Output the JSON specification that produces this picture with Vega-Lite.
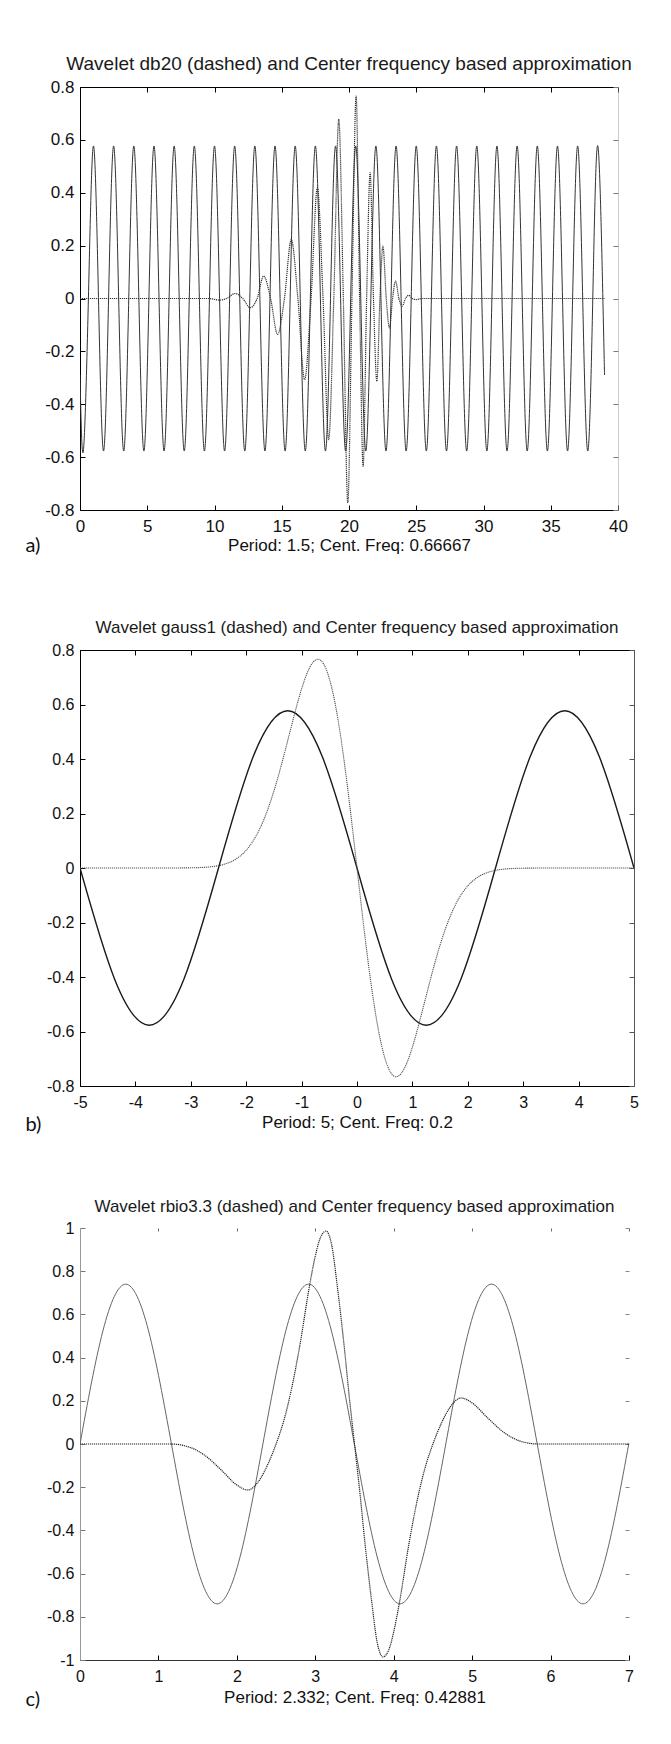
{
  "$schema": "https://vega.github.io/schema/vega-lite/v6.json",
  "background": "white",
  "padding": {"left": 25, "top": 55, "right": 0, "bottom": 0},
  "spacing": 64,
  "datasets": {
    "a_sine": [
      {"x":0,"y":-0.289},{"x":0.25,"y":-0.577},{"x":0.625,"y":0},{"x":1,"y":0.577},{"x":1.375,"y":0},{"x":1.75,"y":-0.577},{"x":2.125,"y":0},{"x":2.5,"y":0.577},{"x":2.875,"y":0},{"x":3.25,"y":-0.577},{"x":3.625,"y":0},{"x":4,"y":0.577},{"x":4.375,"y":0},{"x":4.75,"y":-0.577},{"x":5.125,"y":0},{"x":5.5,"y":0.577},{"x":5.875,"y":0},{"x":6.25,"y":-0.577},{"x":6.625,"y":0},{"x":7,"y":0.577},{"x":7.375,"y":0},{"x":7.75,"y":-0.577},{"x":8.125,"y":0},{"x":8.5,"y":0.577},{"x":8.875,"y":0},{"x":9.25,"y":-0.577},{"x":9.625,"y":0},{"x":10,"y":0.577},{"x":10.375,"y":0},{"x":10.75,"y":-0.577},{"x":11.125,"y":0},{"x":11.5,"y":0.577},{"x":11.875,"y":0},{"x":12.25,"y":-0.577},{"x":12.625,"y":0},{"x":13,"y":0.577},{"x":13.375,"y":0},{"x":13.75,"y":-0.577},{"x":14.125,"y":0},{"x":14.5,"y":0.577},{"x":14.875,"y":0},{"x":15.25,"y":-0.577},{"x":15.625,"y":0},{"x":16,"y":0.577},{"x":16.375,"y":0},{"x":16.75,"y":-0.577},{"x":17.125,"y":0},{"x":17.5,"y":0.577},{"x":17.875,"y":0},{"x":18.25,"y":-0.577},{"x":18.625,"y":0},{"x":19,"y":0.577},{"x":19.375,"y":0},{"x":19.75,"y":-0.577},{"x":20.125,"y":0},{"x":20.5,"y":0.577},{"x":20.875,"y":0},{"x":21.25,"y":-0.577},{"x":21.625,"y":0},{"x":22,"y":0.577},{"x":22.375,"y":0},{"x":22.75,"y":-0.577},{"x":23.125,"y":0},{"x":23.5,"y":0.577},{"x":23.875,"y":0},{"x":24.25,"y":-0.577},{"x":24.625,"y":0},{"x":25,"y":0.577},{"x":25.375,"y":0},{"x":25.75,"y":-0.577},{"x":26.125,"y":0},{"x":26.5,"y":0.577},{"x":26.875,"y":0},{"x":27.25,"y":-0.577},{"x":27.625,"y":0},{"x":28,"y":0.577},{"x":28.375,"y":0},{"x":28.75,"y":-0.577},{"x":29.125,"y":0},{"x":29.5,"y":0.577},{"x":29.875,"y":0},{"x":30.25,"y":-0.577},{"x":30.625,"y":0},{"x":31,"y":0.577},{"x":31.375,"y":0},{"x":31.75,"y":-0.577},{"x":32.125,"y":0},{"x":32.5,"y":0.577},{"x":32.875,"y":0},{"x":33.25,"y":-0.577},{"x":33.625,"y":0},{"x":34,"y":0.577},{"x":34.375,"y":0},{"x":34.75,"y":-0.577},{"x":35.125,"y":0},{"x":35.5,"y":0.577},{"x":35.875,"y":0},{"x":36.25,"y":-0.577},{"x":36.625,"y":0},{"x":37,"y":0.577},{"x":37.375,"y":0},{"x":37.75,"y":-0.577},{"x":38.125,"y":0},{"x":38.5,"y":0.577},{"x":38.875,"y":0},{"x":39,"y":-0.289}
    ],
    "a_wave": [
      {"x":0,"y":0},{"x":9.6,"y":0},{"x":10.35,"y":-0.006},{"x":10.9,"y":0},{"x":11.54,"y":0.019},{"x":12.1,"y":0},{"x":12.66,"y":-0.035},{"x":13.17,"y":0},{"x":13.65,"y":0.085},{"x":14.17,"y":0},{"x":14.69,"y":-0.136},{"x":15.2,"y":0},{"x":15.71,"y":0.223},{"x":16.2,"y":0},{"x":16.7,"y":-0.307},{"x":17.18,"y":0},{"x":17.65,"y":0.419},{"x":18.07,"y":0},{"x":18.49,"y":-0.534},{"x":18.87,"y":0},{"x":19.24,"y":0.678},{"x":19.58,"y":0},{"x":19.91,"y":-0.773},{"x":20.22,"y":0},{"x":20.53,"y":0.766},{"x":20.79,"y":0},{"x":21.05,"y":-0.635},{"x":21.31,"y":0},{"x":21.57,"y":0.476},{"x":21.82,"y":0},{"x":22.07,"y":-0.313},{"x":22.3,"y":0},{"x":22.52,"y":0.198},{"x":22.77,"y":0},{"x":23.01,"y":-0.111},{"x":23.24,"y":0},{"x":23.46,"y":0.066},{"x":23.71,"y":0},{"x":23.96,"y":-0.029},{"x":24.2,"y":0},{"x":24.45,"y":0.012},{"x":24.7,"y":0},{"x":25,"y":-0.004},{"x":25.4,"y":0},{"x":39,"y":0}
    ],
    "b_sine": [
      {"x":-5,"y":0},{"x":-4.375,"y":-0.408},{"x":-3.75,"y":-0.577},{"x":-3.125,"y":-0.408},{"x":-2.5,"y":0},{"x":-1.875,"y":0.408},{"x":-1.25,"y":0.577},{"x":-0.625,"y":0.408},{"x":0,"y":0},{"x":0.625,"y":-0.408},{"x":1.25,"y":-0.577},{"x":1.875,"y":-0.408},{"x":2.5,"y":0},{"x":3.125,"y":0.408},{"x":3.75,"y":0.577},{"x":4.375,"y":0.408},{"x":5,"y":0}
    ],
    "b_wave": [
      {"x":-5,"y":0},{"x":-4,"y":0},{"x":-3.5,"y":0},{"x":-3,"y":0.0007},{"x":-2.8,"y":0.002},{"x":-2.6,"y":0.0054},{"x":-2.4,"y":0.0135},{"x":-2.2,"y":0.0311},{"x":-2,"y":0.0654},{"x":-1.9,"y":0.0918},{"x":-1.8,"y":0.1259},{"x":-1.7,"y":0.1688},{"x":-1.6,"y":0.221},{"x":-1.5,"y":0.2825},{"x":-1.4,"y":0.3523},{"x":-1.3,"y":0.4285},{"x":-1.2,"y":0.5079},{"x":-1.1,"y":0.586},{"x":-1,"y":0.6572},{"x":-0.9,"y":0.7153},{"x":-0.8,"y":0.7536},{"x":-0.7,"y":0.7661},{"x":-0.6,"y":0.7478},{"x":-0.5,"y":0.6957},{"x":-0.4,"y":0.6089},{"x":-0.3,"y":0.4898},{"x":-0.2,"y":0.3433},{"x":-0.1,"y":0.1769},{"x":0,"y":0},{"x":0.1,"y":-0.1769},{"x":0.2,"y":-0.3433},{"x":0.3,"y":-0.4898},{"x":0.4,"y":-0.6089},{"x":0.5,"y":-0.6957},{"x":0.6,"y":-0.7478},{"x":0.7,"y":-0.7661},{"x":0.8,"y":-0.7536},{"x":0.9,"y":-0.7153},{"x":1,"y":-0.6572},{"x":1.1,"y":-0.586},{"x":1.2,"y":-0.5079},{"x":1.3,"y":-0.4285},{"x":1.4,"y":-0.3523},{"x":1.5,"y":-0.2825},{"x":1.6,"y":-0.221},{"x":1.7,"y":-0.1688},{"x":1.8,"y":-0.1259},{"x":1.9,"y":-0.0918},{"x":2,"y":-0.0654},{"x":2.2,"y":-0.0311},{"x":2.4,"y":-0.0135},{"x":2.6,"y":-0.0054},{"x":2.8,"y":-0.002},{"x":3,"y":-0.0007},{"x":3.5,"y":0},{"x":4,"y":0},{"x":5,"y":0}
    ],
    "c_sine": [
      {"x":0,"y":0},{"x":0.2915,"y":0.523},{"x":0.583,"y":0.74},{"x":0.8745,"y":0.523},{"x":1.166,"y":0},{"x":1.4575,"y":-0.523},{"x":1.749,"y":-0.74},{"x":2.0405,"y":-0.523},{"x":2.332,"y":0},{"x":2.6235,"y":0.523},{"x":2.915,"y":0.74},{"x":3.2065,"y":0.523},{"x":3.498,"y":0},{"x":3.7895,"y":-0.523},{"x":4.081,"y":-0.74},{"x":4.3725,"y":-0.523},{"x":4.664,"y":0},{"x":4.9555,"y":0.523},{"x":5.247,"y":0.74},{"x":5.5385,"y":0.523},{"x":5.83,"y":0},{"x":6.1215,"y":-0.523},{"x":6.413,"y":-0.74},{"x":6.7045,"y":-0.523},{"x":7,"y":0.006}
    ],
    "c_wave": [
      {"x":0,"y":0},{"x":1.16,"y":0},{"x":1.4,"y":-0.015},{"x":1.6,"y":-0.055},{"x":1.8,"y":-0.12},{"x":2,"y":-0.19},{"x":2.14,"y":-0.213},{"x":2.3,"y":-0.16},{"x":2.4,"y":-0.09},{"x":2.5,"y":0},{"x":2.6,"y":0.11},{"x":2.7,"y":0.26},{"x":2.8,"y":0.45},{"x":2.93,"y":0.74},{"x":3,"y":0.87},{"x":3.05,"y":0.94},{"x":3.136,"y":0.986},{"x":3.21,"y":0.92},{"x":3.284,"y":0.72},{"x":3.369,"y":0.45},{"x":3.43,"y":0.23},{"x":3.5,"y":0},{"x":3.57,"y":-0.23},{"x":3.631,"y":-0.45},{"x":3.716,"y":-0.72},{"x":3.79,"y":-0.92},{"x":3.864,"y":-0.986},{"x":3.95,"y":-0.94},{"x":4,"y":-0.87},{"x":4.07,"y":-0.74},{"x":4.2,"y":-0.45},{"x":4.3,"y":-0.26},{"x":4.4,"y":-0.11},{"x":4.5,"y":0},{"x":4.6,"y":0.09},{"x":4.7,"y":0.16},{"x":4.86,"y":0.213},{"x":5,"y":0.19},{"x":5.2,"y":0.12},{"x":5.4,"y":0.055},{"x":5.6,"y":0.015},{"x":5.84,"y":0},{"x":7,"y":0}
    ]
  },
  "vconcat": [
    {
      "title": {"text": "Wavelet db20 (dashed) and Center frequency based approximation", "fontSize": 19, "offset": 4},
      "width": 538,
      "height": 423,
      "layer": [
        {
          "data": {"name": "a_sine"},
          "mark": {"type": "line", "interpolate": "natural", "color": "#333", "strokeWidth": 1, "clip": true},
          "encoding": {
            "x": {"field": "x", "type": "quantitative", "scale": {"domain": [0, 40], "nice": false, "zero": false},
              "axis": {"orient": "bottom", "values": [0,5,10,15,20,25,30,35,40], "labelExpr": "'' + datum.value", "labelFontSize": 17, "labelPadding": 13, "title": "Period: 1.5; Cent. Freq: 0.66667", "titleFontSize": 17, "titlePadding": 3}},
            "y": {"field": "y", "type": "quantitative", "scale": {"domain": [-0.8, 0.8], "nice": false, "zero": false},
              "axis": {"orient": "left", "values": [-0.8,-0.6,-0.4,-0.2,0,0.2,0.4,0.6,0.8], "labelExpr": "'' + datum.value", "labelFontSize": 17, "labelPadding": 11, "title": "a)", "titleAngle": 0, "titleAlign": "left", "titleBaseline": "middle", "titleX": -55, "titleY": 458, "titleFont": "Lato", "titleFontSize": 20}}
          }
        },
        {
          "data": {"name": "a_wave"},
          "mark": {"type": "line", "interpolate": "monotone", "color": "#333", "strokeWidth": 1.2, "strokeDash": [1.2, 0.8], "clip": true},
          "encoding": {
            "x": {"field": "x", "type": "quantitative", "axis": {"orient": "top", "values": [0,5,10,15,20,25,30,35,40], "labels": false, "title": null}},
            "y": {"field": "y", "type": "quantitative", "axis": {"orient": "right", "values": [-0.8,-0.6,-0.4,-0.2,0,0.2,0.4,0.6,0.8], "labels": false, "title": null, "domainColor": "#999", "domainDash": [1, 1], "tickColor": "#777"}}
          }
        }
      ],
      "resolve": {"axis": {"x": "independent", "y": "independent"}}
    },
    {
      "title": {"text": "Wavelet gauss1 (dashed) and Center frequency based approximation", "fontSize": 17, "offset": 5},
      "width": 554,
      "height": 436,
      "layer": [
        {
          "data": {"name": "b_sine"},
          "mark": {"type": "line", "interpolate": "natural", "color": "#1a1a1a", "strokeWidth": 1.4, "clip": true},
          "encoding": {
            "x": {"field": "x", "type": "quantitative", "scale": {"domain": [-5, 5], "nice": false, "zero": false},
              "axis": {"orient": "bottom", "values": [-5,-4,-3,-2,-1,0,1,2,3,4,5], "labelExpr": "'' + datum.value", "labelFontSize": 16, "labelPadding": 13, "title": "Period: 5; Cent. Freq: 0.2", "titleFontSize": 17, "titlePadding": 4}},
            "y": {"field": "y", "type": "quantitative", "scale": {"domain": [-0.8, 0.8], "nice": false, "zero": false},
              "axis": {"orient": "left", "values": [-0.8,-0.6,-0.4,-0.2,0,0.2,0.4,0.6,0.8], "labelExpr": "'' + datum.value", "labelFontSize": 16, "labelPadding": 11, "title": "b)", "titleAngle": 0, "titleAlign": "left", "titleBaseline": "middle", "titleX": -55, "titleY": 474, "titleFont": "Lato", "titleFontSize": 20}}
          }
        },
        {
          "data": {"name": "b_wave"},
          "mark": {"type": "line", "interpolate": "monotone", "color": "#555", "strokeWidth": 1.1, "strokeDash": [1.2, 0.8], "clip": true},
          "encoding": {
            "x": {"field": "x", "type": "quantitative", "axis": {"orient": "top", "values": [-5,-4,-3,-2,-1,0,1,2,3,4,5], "labels": false, "title": null}},
            "y": {"field": "y", "type": "quantitative", "axis": {"orient": "right", "values": [-0.8,-0.6,-0.4,-0.2,0,0.2,0.4,0.6,0.8], "labels": false, "title": null, "domainColor": "#555", "tickColor": "#555"}}
          }
        }
      ],
      "resolve": {"axis": {"x": "independent", "y": "independent"}}
    },
    {
      "title": {"text": "Wavelet rbio3.3 (dashed) and Center frequency based approximation", "fontSize": 17, "offset": 4},
      "width": 549,
      "height": 432,
      "layer": [
        {
          "data": {"name": "c_sine"},
          "mark": {"type": "line", "interpolate": "natural", "color": "#666", "strokeWidth": 1, "clip": true},
          "encoding": {
            "x": {"field": "x", "type": "quantitative", "scale": {"domain": [0, 7], "nice": false, "zero": false},
              "axis": {"orient": "bottom", "values": [0,1,2,3,4,5,6,7], "labelExpr": "'' + datum.value", "labelFontSize": 16, "labelPadding": 13, "title": "Period: 2.332; Cent. Freq: 0.42881", "titleFontSize": 17, "titlePadding": 5, "domainColor": "#333"}},
            "y": {"field": "y", "type": "quantitative", "scale": {"domain": [-1, 1], "nice": false, "zero": false},
              "axis": {"orient": "left", "values": [-1,-0.8,-0.6,-0.4,-0.2,0,0.2,0.4,0.6,0.8,1], "labelExpr": "'' + datum.value", "labelFontSize": 16, "labelPadding": 11, "domainColor": "#999", "tickColor": "#777", "title": "c)", "titleAngle": 0, "titleAlign": "left", "titleBaseline": "middle", "titleX": -55, "titleY": 471, "titleFont": "Lato", "titleFontSize": 20}}
          }
        },
        {
          "data": {"name": "c_wave"},
          "mark": {"type": "line", "interpolate": "monotone", "color": "#222", "strokeWidth": 1.2, "strokeDash": [1.2, 0.8], "clip": true},
          "encoding": {
            "x": {"field": "x", "type": "quantitative", "axis": {"orient": "top", "values": [0,1,2,3,4,5,6,7], "labels": false, "title": null, "domain": false, "tickColor": "#666", "tickSize": -3}},
            "y": {"field": "y", "type": "quantitative", "axis": {"orient": "right", "values": [-1,-0.8,-0.6,-0.4,-0.2,0,0.2,0.4,0.6,0.8,1], "labels": false, "title": null, "domain": false, "tickColor": "#888", "tickSize": -4}}
          }
        }
      ],
      "resolve": {"axis": {"x": "independent", "y": "independent"}}
    }
  ],
  "config": {
    "view": {"stroke": null},
    "font": "Liberation Sans",
    "title": {"font": "Liberation Sans", "fontWeight": "normal", "color": "#1a1a1a", "anchor": "middle", "frame": "group"},
    "axis": {"grid": false, "tickSize": -5, "tickColor": "#000", "tickWidth": 1, "domainColor": "#000", "domainWidth": 1, "labelFont": "Liberation Sans", "labelColor": "#111", "labelFlush": false, "labelOverlap": false, "labelBound": false, "titleFont": "Liberation Sans", "titleFontWeight": "normal", "titleColor": "#111"}
  }
}
